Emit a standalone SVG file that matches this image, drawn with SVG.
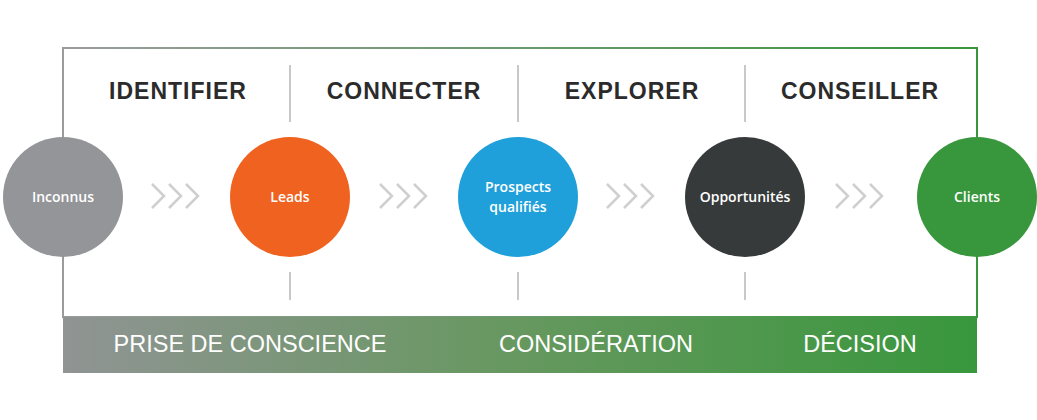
<svg xmlns="http://www.w3.org/2000/svg" width="1037" height="420" viewBox="0 0 1037 420">
<style>
.h{font-family:"Liberation Sans",Arial,sans-serif;font-weight:bold;font-size:23px;letter-spacing:1px;fill:#2b2b2b;text-anchor:middle}
.b{font-family:"Liberation Sans",Arial,sans-serif;font-size:23.5px;fill:#ffffff;text-anchor:middle}
.c{font-family:"Open Sans","Liberation Sans",Arial,sans-serif;font-weight:600;font-size:14px;fill:#ffffff;text-anchor:middle}
.div{stroke:#c8c8c8;stroke-width:2}
.chev{fill:none;stroke:#cfcfcf;stroke-width:2.5}
</style>
<defs>
<linearGradient id="band" x1="0" y1="0" x2="1" y2="0">
<stop offset="0" stop-color="#909494"/>
<stop offset="0.5" stop-color="#66985f"/>
<stop offset="1" stop-color="#38973c"/>
</linearGradient>
<linearGradient id="frame" gradientUnits="userSpaceOnUse" x1="63" y1="0" x2="977" y2="0">
<stop offset="0" stop-color="#9a9c9c"/>
<stop offset="1" stop-color="#38973c"/>
</linearGradient>
<g id="chevs">
<polyline class="chev" points="0,-12 12,0 0,12"/>
<polyline class="chev" points="17,-12 29,0 17,12"/>
<polyline class="chev" points="34,-12 46,0 34,12"/>
</g>
</defs>
<rect width="1037" height="420" fill="#ffffff"/>
<g id="frame-group">
<rect x="63" y="48" width="914" height="269" fill="#ffffff" stroke="url(#frame)" stroke-width="2"/>
<rect x="63" y="317" width="914" height="56" fill="url(#band)"/>
</g>
<g id="headings">
<text class="h" x="178" y="99">IDENTIFIER</text>
<text class="h" x="404" y="99">CONNECTER</text>
<text class="h" x="632" y="99">EXPLORER</text>
<text class="h" x="860" y="99">CONSEILLER</text>
</g>
<g id="dividers">
<line class="div" x1="290" y1="65" x2="290" y2="122"/>
<line class="div" x1="518" y1="65" x2="518" y2="122"/>
<line class="div" x1="745" y1="65" x2="745" y2="122"/>
<line class="div" x1="290" y1="272" x2="290" y2="300"/>
<line class="div" x1="518" y1="272" x2="518" y2="300"/>
<line class="div" x1="745" y1="272" x2="745" y2="300"/>
</g>
<g id="connectors">
<use href="#chevs" x="152" y="196"/>
<use href="#chevs" x="380" y="196"/>
<use href="#chevs" x="607" y="196"/>
<use href="#chevs" x="836" y="196"/>
</g>
<g id="node-inconnus">
<circle cx="63" cy="197" r="60" fill="#939598"/>
<text class="c" x="63" y="202">Inconnus</text>
</g>
<g id="node-leads">
<circle cx="290" cy="197" r="60" fill="#f0621f"/>
<text class="c" x="290" y="202">Leads</text>
</g>
<g id="node-prospects">
<circle cx="518" cy="197" r="60" fill="#1fa0da"/>
<text class="c" x="518" y="192">Prospects</text>
<text class="c" x="518" y="212">qualifiés</text>
</g>
<g id="node-opportunites">
<circle cx="745" cy="197" r="60" fill="#373a3a"/>
<text class="c" x="745" y="202">Opportunités</text>
</g>
<g id="node-clients">
<circle cx="977" cy="197" r="60" fill="#38973c"/>
<text class="c" x="977" y="202">Clients</text>
</g>
<g id="band-labels">
<text class="b" x="250" y="352">PRISE DE CONSCIENCE</text>
<text class="b" x="596" y="352">CONSIDÉRATION</text>
<text class="b" x="860" y="352">DÉCISION</text>
</g>
</svg>
